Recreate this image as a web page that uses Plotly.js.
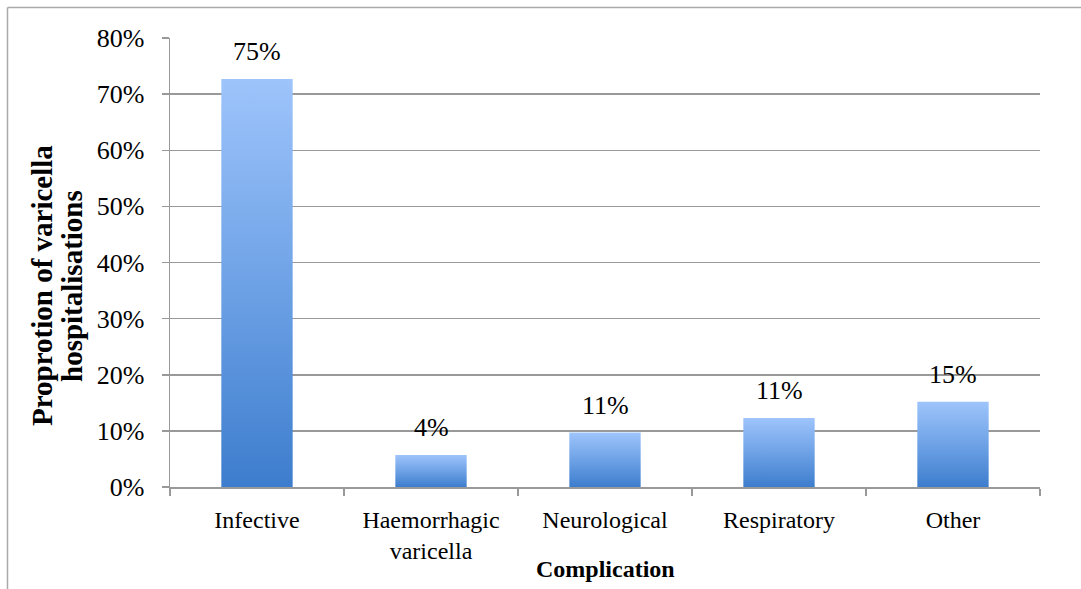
<!DOCTYPE html>
<html>
<head>
<meta charset="utf-8">
<script src="https://cdn.plot.ly/plotly-3.0.1.min.js"></script>
<style>
html,body{margin:0;padding:0;background:#fff;}
#chart{width:1081px;height:589px;}
</style>
</head>
<body>
<div id="chart"></div>
<script>
// Data
const categories = ["Infective", "Haemorrhagic<br>varicella", "Neurological", "Respiratory", "Other"];
const values = [0.727, 0.057, 0.097, 0.123, 0.152];
const labels = ["75%", "4%", "11%", "11%", "15%"];
const yTickVals = [0, 0.1, 0.2, 0.3, 0.4, 0.5, 0.6, 0.7, 0.8];
const xTitle = "Complication";
const yTitleLines = ["Proprotion of varicella", "hospitalisations"];

const FONT = "Liberation Serif, Times New Roman, serif";
const barWidth = 0.41;
const idx = categories.map((c, i) => i);

const traces = values.map((v, i) => ({
  type: "scatter",
  mode: "lines",
  x: [i - barWidth / 2, i + barWidth / 2, i + barWidth / 2, i - barWidth / 2, i - barWidth / 2],
  y: [0, 0, v, v, 0],
  fill: "toself",
  fillgradient: {type: "vertical", colorscale: [[0, "#3d7dcd"], [0.5, "#6ea2e6"], [1, "#9ec4fb"]]},
  line: {width: 0},
  hoverinfo: "skip",
  showlegend: false,
  name: categories[i]
}));

// dummy trace for category label axis
traces.push({
  type: "scatter", mode: "none", x: idx, y: values, xaxis: "x2", yaxis: "y",
  hoverinfo: "skip", showlegend: false
});

const annotations = values.map((v, i) => ({
  x: i, y: v, xref: "x", yref: "y", text: labels[i], showarrow: false,
  yanchor: "bottom", yshift: 11, font: {family: FONT, size: 26, color: "#000"}
}));
const yTitleX = [(42 - 170) / 870, (72 - 170) / 870];
yTitleLines.forEach((t, k) => annotations.push({
  xref: "paper", yref: "paper", x: yTitleX[k], y: (487 - 286) / 449, xanchor: "center", yanchor: "middle",
  text: "<b>" + t + "</b>", textangle: -90, showarrow: false,
  font: {family: FONT, size: 29, color: "#000"}
}));
annotations.push({
  xref: "paper", yref: "paper", x: 0.5, y: (487 - 569) / 449, xanchor: "center", yanchor: "middle",
  text: "<b>" + xTitle + "</b>", showarrow: false,
  font: {family: FONT, size: 24, color: "#000"}
});

const gray = "#999999";
const layout = {
  width: 1081, height: 589,
  margin: {l: 170, r: 41, t: 38, b: 102},
  paper_bgcolor: "#fff", plot_bgcolor: "#fff",
  showlegend: false,
  xaxis: {
    range: [-0.5, 4.5], tickmode: "array",
    tickvals: [-0.5, 0.5, 1.5, 2.5, 3.5, 4.5], ticktext: ["", "", "", "", "", ""],
    ticks: "outside", ticklen: 7, tickcolor: gray, tickwidth: 1.5,
    showline: true, linecolor: gray, linewidth: 1.5, showgrid: false, zeroline: false,
    fixedrange: true
  },
  xaxis2: {
    overlaying: "x", anchor: "y", side: "bottom", range: [-0.5, 4.5],
    tickmode: "array", tickvals: idx, ticktext: categories,
    ticks: "", showline: false, showgrid: false, zeroline: false,
    ticklabelstandoff: 16,
    tickfont: {family: FONT, size: 24, color: "#000"}
  },
  yaxis: {
    range: [0, 0.8], tickmode: "array", tickvals: yTickVals, tickformat: ".0%",
    ticks: "outside", ticklen: 7, tickcolor: gray, tickwidth: 1.5,
    showline: true, linecolor: gray, linewidth: 1.5,
    showgrid: true, gridcolor: gray, gridwidth: 1.5, zeroline: false,
    ticklabelstandoff: 12,
    tickfont: {family: FONT, size: 26, color: "#000"},
    fixedrange: true
  },
  annotations: annotations,
  shapes: [
    {type: "line", xref: "paper", yref: "paper", x0: (7.5 - 170) / 870, x1: (1081 - 170) / 870,
     y0: (487 - 7.5) / 449, y1: (487 - 7.5) / 449, line: {color: "#aaaaaa", width: 1.5}},
    {type: "line", xref: "paper", yref: "paper", x0: (7.5 - 170) / 870, x1: (7.5 - 170) / 870,
     y0: (487 - 7.5) / 449, y1: (487 - 589) / 449, line: {color: "#aaaaaa", width: 1.5}}
  ]
};

Plotly.newPlot("chart", traces, layout, {staticPlot: true, displayModeBar: false});
</script>
</body>
</html>
